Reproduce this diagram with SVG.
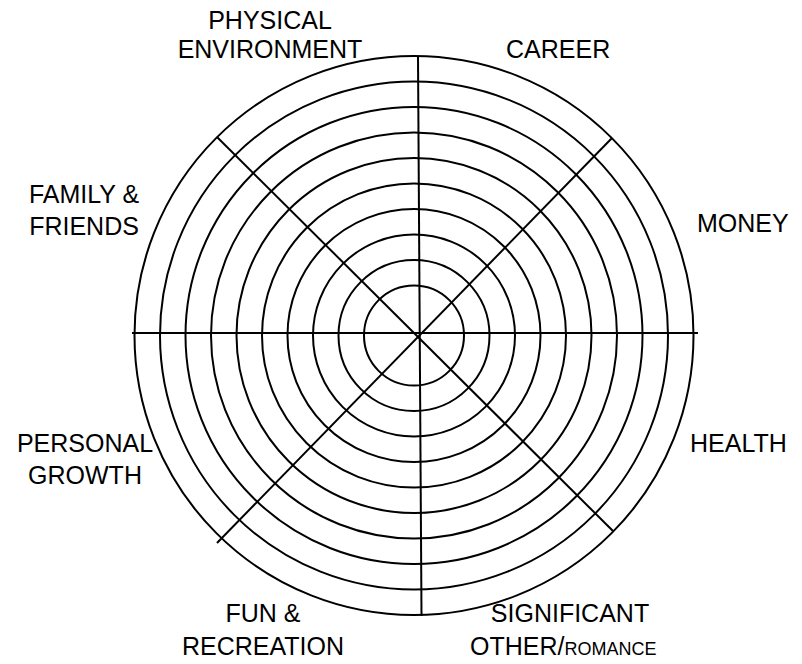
<svg xmlns="http://www.w3.org/2000/svg" width="802" height="664" viewBox="0 0 802 664">
<style>
.ring{fill:none;stroke:#000;stroke-width:2}
.ln{stroke:#000;stroke-width:2;fill:none}
text{font-family:"Liberation Sans",Arial,sans-serif;font-size:25px;fill:#000}
.c{text-anchor:middle}
.sm{font-size:18px}
</style>
<rect width="802" height="664" fill="#fff"/>
<g id="wheel">
<circle class="ring" cx="414" cy="335.5" r="279.5"/>
<circle class="ring" cx="414" cy="335.5" r="254"/>
<circle class="ring" cx="414" cy="335.5" r="228.5"/>
<circle class="ring" cx="414" cy="335.5" r="203"/>
<circle class="ring" cx="414" cy="335.5" r="177.5"/>
<circle class="ring" cx="414" cy="335.5" r="152"/>
<circle class="ring" cx="414" cy="335.5" r="126.5"/>
<circle class="ring" cx="414" cy="335.5" r="101"/>
<circle class="ring" cx="414" cy="335.5" r="75.5"/>
<circle class="ring" cx="414" cy="335.5" r="50"/>
</g>
<g id="connectors">
<line class="ln" x1="132" y1="333" x2="698" y2="333"/>
<line class="ln" x1="418" y1="56" x2="421.5" y2="616"/>
<line class="ln" x1="217" y1="137" x2="613" y2="531"/>
<line class="ln" x1="612" y1="138" x2="217" y2="543"/>
</g>
<g id="physical"><text class="c" x="270" y="29">PHYSICAL</text><text class="c" x="270" y="58">ENVIRONMENT</text></g>
<g id="career"><text x="506" y="58">CAREER</text></g>
<g id="money"><text x="697" y="232">MONEY</text></g>
<g id="family"><text class="c" x="84" y="203">FAMILY &amp;</text><text class="c" x="84" y="235">FRIENDS</text></g>
<g id="personal"><text class="c" x="85" y="452">PERSONAL</text><text class="c" x="85" y="484">GROWTH</text></g>
<g id="health"><text x="690" y="452">HEALTH</text></g>
<g id="fun"><text class="c" x="263" y="622">FUN &amp;</text><text class="c" x="263" y="655">RECREATION</text></g>
<g id="significant"><text class="c" x="570" y="622">SIGNIFICANT</text><text x="470" y="655">OTHER/<tspan class="sm">ROMANCE</tspan></text></g>
</svg>
